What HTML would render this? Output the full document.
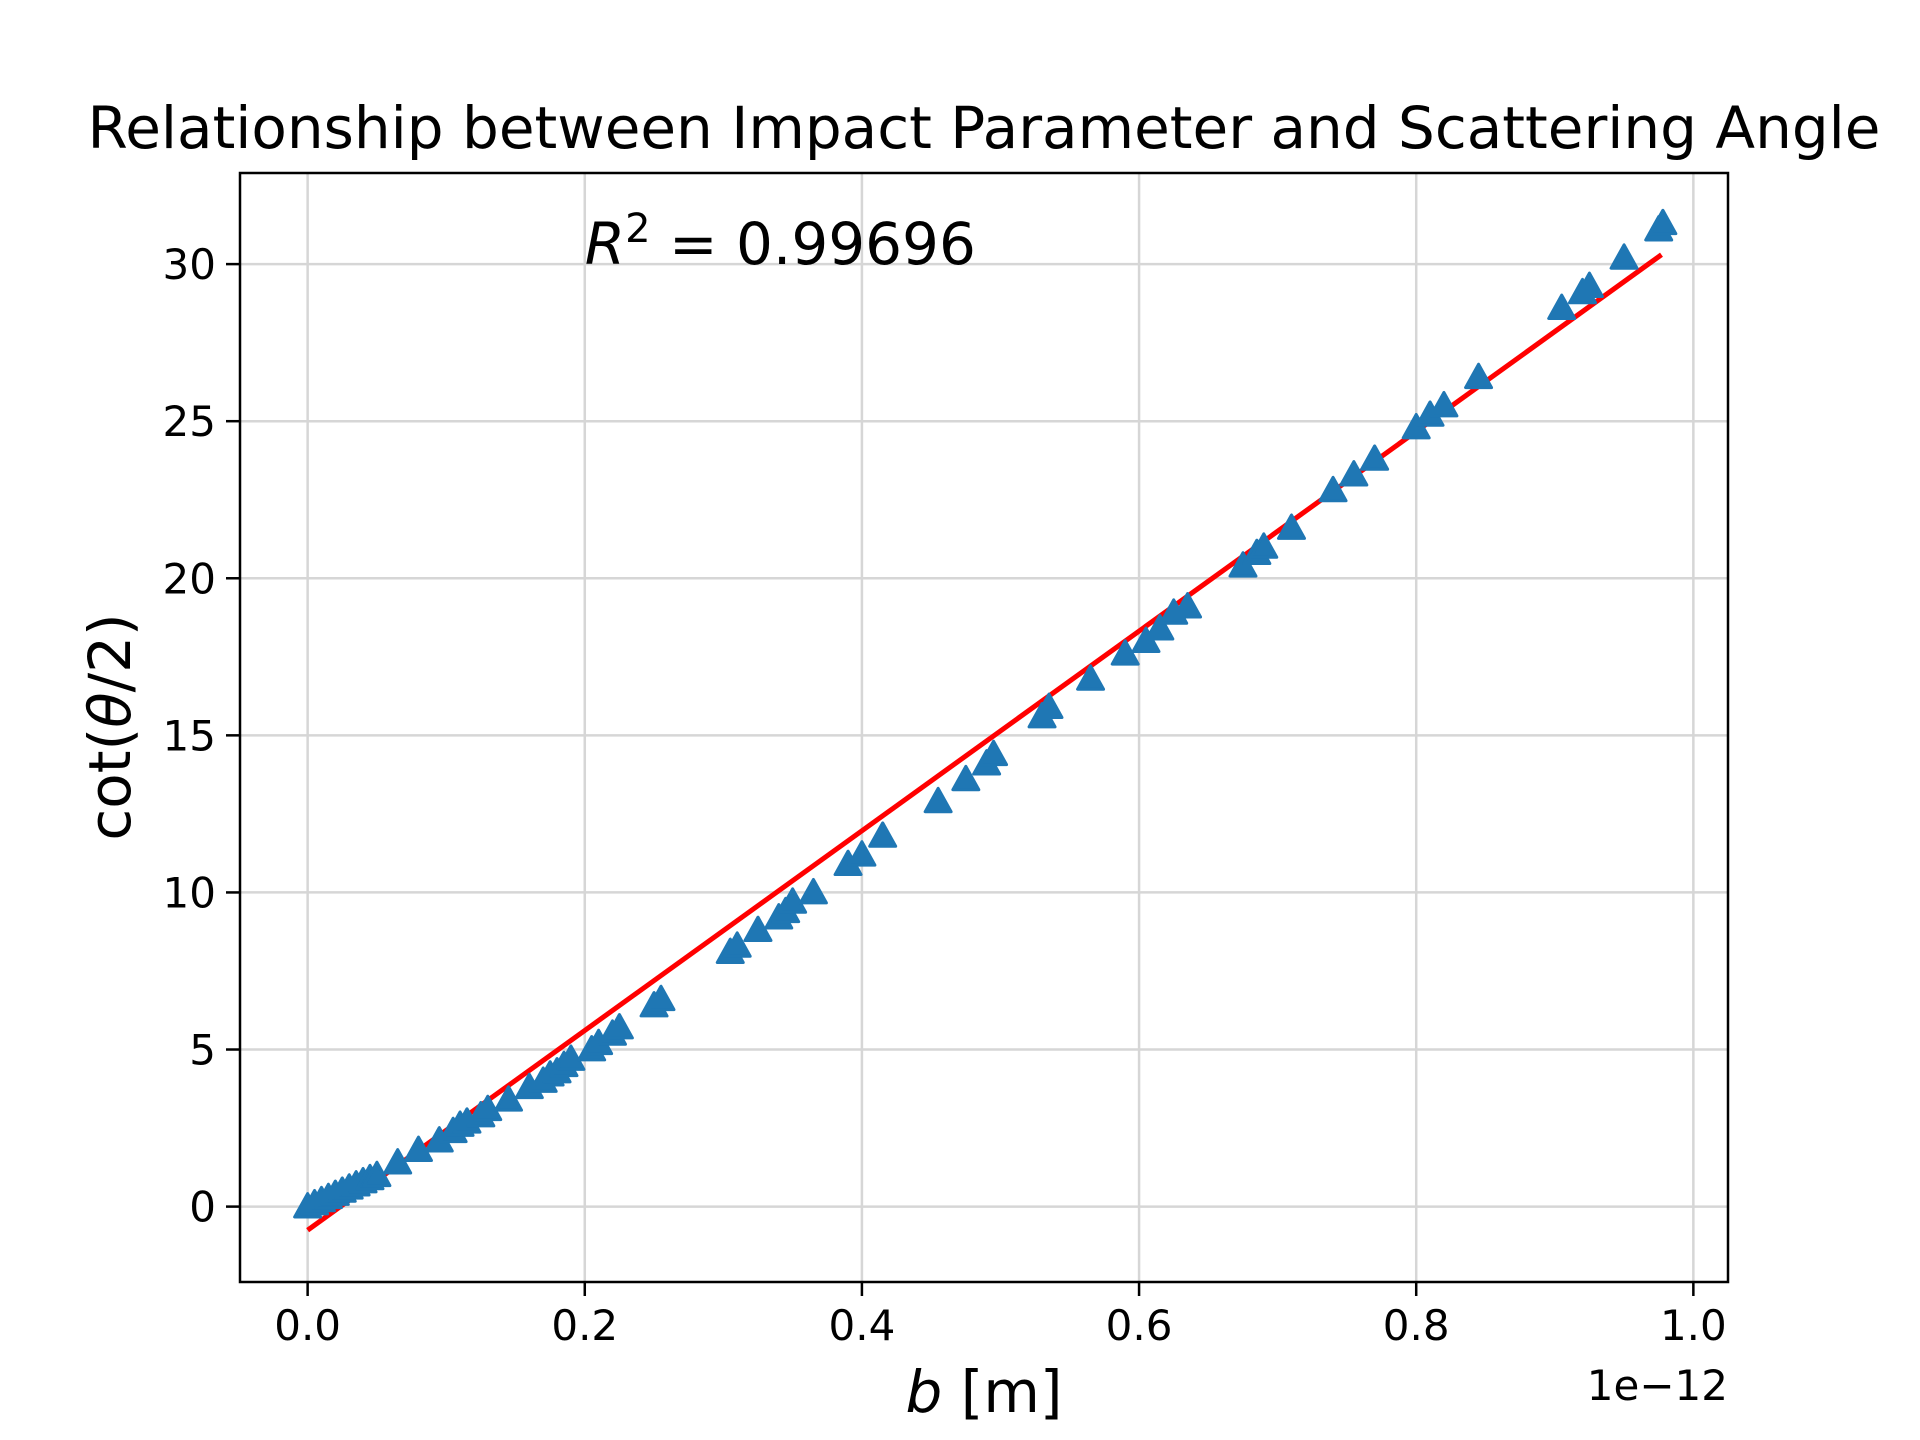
<!DOCTYPE html>
<html><head><meta charset="utf-8"><style>
html,body{margin:0;padding:0;background:#fff;}
svg{display:block;font-family:"DejaVu Sans","Liberation Sans",sans-serif;}
</style></head><body>
<svg id="chart" width="1920" height="1440" viewBox="0 0 1920 1440" xmlns="http://www.w3.org/2000/svg">
<rect width="1920" height="1440" fill="#fff"/>
<text x="984" y="148" font-size="58" text-anchor="middle">Relationship between Impact Parameter and Scattering Angle</text>
<g id="grid"></g>
<g id="fit"></g>
<g id="points"></g>
<rect x="240" y="173" width="1488" height="1109" fill="none" stroke="#000" stroke-width="2.5"/>
<g id="ticks"></g>
<text id="r2" font-size="58"><tspan font-style="italic">R</tspan><tspan font-size="40" dy="-22">2</tspan><tspan dy="22"> = 0.99696</tspan></text>
<text x="984" y="1412" font-size="58" text-anchor="middle"><tspan font-style="italic">b</tspan> [m]</text>
<text x="1728" y="1400" font-size="42" text-anchor="end">1e−12</text>
<text transform="translate(130,727) rotate(-90)" font-size="58" text-anchor="middle">cot(<tspan font-style="italic">θ</tspan>/2)</text>
</svg>
<script>
const xs=[0.0,0.005,0.01,0.015,0.02,0.025,0.03,0.035,0.04,0.045,0.05,0.065,0.08,0.095,0.105,0.11,0.115,0.125,0.13,0.145,0.16,0.17,0.175,0.18,0.185,0.19,0.205,0.21,0.22,0.225,0.25,0.255,0.305,0.31,0.325,0.34,0.345,0.35,0.365,0.39,0.4,0.415,0.455,0.475,0.49,0.495,0.53,0.535,0.565,0.59,0.605,0.615,0.625,0.635,0.675,0.685,0.69,0.71,0.74,0.755,0.77,0.8,0.81,0.82,0.845,0.905,0.92,0.925,0.95,0.975,0.978];
const ys=[0.0,0.1,0.2,0.3,0.4,0.5,0.6,0.7,0.8,0.9,1.0,1.4,1.8,2.1,2.4,2.6,2.7,2.9,3.1,3.4,3.8,4.0,4.2,4.3,4.5,4.7,5.0,5.2,5.5,5.7,6.4,6.6,8.1,8.3,8.8,9.2,9.4,9.7,10.0,10.9,11.2,11.8,12.9,13.6,14.1,14.4,15.6,15.9,16.8,17.6,18.0,18.4,18.9,19.1,20.4,20.8,21.0,21.6,22.8,23.3,23.8,24.8,25.2,25.5,26.4,28.6,29.1,29.3,30.2,31.1,31.3];
const fitX=[0.0,0.977];
const fitY=[-0.75,30.3];
const xTicks=[0,0.2,0.4,0.6,0.8,1.0];
const xTickLabels=["0.0","0.2","0.4","0.6","0.8","1.0"];
const yTicks=[0,5,10,15,20,25,30];
const yTickLabels=["0","5","10","15","20","25","30"];
const X0=240,X1=1728,Y0=1282,Y1=173;
const xmin=-0.0488,xmax=1.025,ymin=-2.4,ymax=32.9;
const sx=v=>X0+(v-xmin)/(xmax-xmin)*(X1-X0);
const sy=v=>Y0-(v-ymin)/(ymax-ymin)*(Y0-Y1);
const NS="http://www.w3.org/2000/svg";
function mk(tag,attrs,parent){const e=document.createElementNS(NS,tag);for(const k in attrs)e.setAttribute(k,attrs[k]);parent.appendChild(e);return e;}
const grid=document.getElementById('grid'),ticks=document.getElementById('ticks');
xTicks.forEach((t,i)=>{
  const x=sx(t);
  const g=mk('line',{x1:x,x2:x,y1:Y1,y2:Y0,stroke:'#d6d6d6','stroke-width':2.5},grid);
  
  
  const tk=mk('line',{x1:x,x2:x,y1:Y0,y2:Y0+14,stroke:'#000','stroke-width':2.5},ticks);
  
  
  const lb=mk('text',{x:x,y:1340,'font-size':42,'text-anchor':'middle'},ticks);
  lb.textContent=xTickLabels[i];
  
  
});
yTicks.forEach((t,i)=>{
  const y=sy(t);
  const g=mk('line',{x1:X0,x2:X1,y1:y,y2:y,stroke:'#d6d6d6','stroke-width':2.5},grid);
  
  
  const tk=mk('line',{x1:X0-14,x2:X0,y1:y,y2:y,stroke:'#000','stroke-width':2.5},ticks);
  
  
  const lb=mk('text',{x:X0-24,y:y+15,'font-size':42,'text-anchor':'end'},ticks);
  lb.textContent=yTickLabels[i];
  
  
});
const fit=mk('line',{x1:sx(fitX[0]),y1:sy(fitY[0]),x2:sx(fitX[1]),y2:sy(fitY[1]),stroke:'#ff0000','stroke-width':5},document.getElementById('fit'));


const pts=document.getElementById('points');
xs.forEach((v,i)=>{
  const cx=sx(v),cy=sy(ys[i]),r=13;
  const p=mk('polygon',{points:`${cx},${cy-r} ${cx-r},${cy+r*0.8} ${cx+r},${cy+r*0.8}`,fill:'#1f77b4',stroke:'#1f77b4','stroke-width':3,'stroke-linejoin':'round'},pts);
  
  
});
const r2=document.getElementById('r2');
r2.setAttribute('x',sx(0.2));
r2.setAttribute('y',sy(30));
</script>
</body></html>
